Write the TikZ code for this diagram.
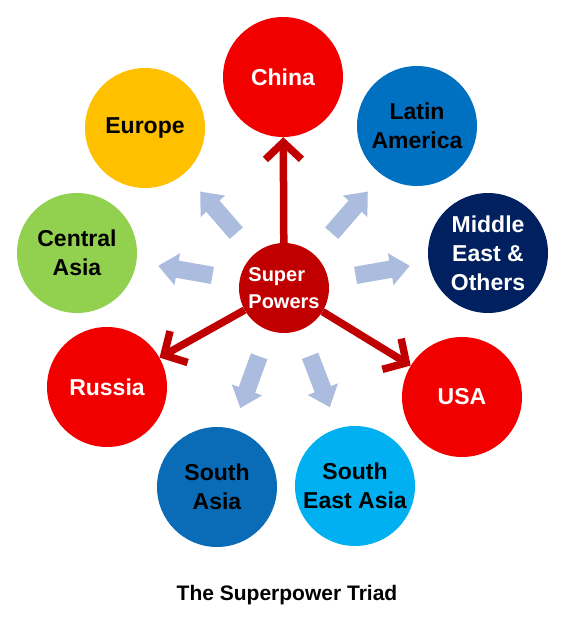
\documentclass[tikz,border=0pt]{standalone}
\usepackage{fontspec}
\setmainfont{Liberation Sans}
\usetikzlibrary{arrows.meta,shapes.arrows,calc}

\definecolor{cnred}{RGB}{242,0,0}
\definecolor{hubred}{RGB}{192,0,0}
\definecolor{eugold}{RGB}{255,192,0}
\definecolor{lablue}{RGB}{0,112,192}
\definecolor{sablue}{RGB}{10,108,182}
\definecolor{menavy}{RGB}{0,32,96}
\definecolor{cagreen}{RGB}{146,208,80}
\definecolor{seablue}{RGB}{0,176,240}
\definecolor{pushblue}{RGB}{172,188,222}

\tikzset{
  region/.style={circle, minimum size=120pt, inner sep=0pt, align=center,
    font=\bfseries\fontsize{23}{29}\selectfont},
  hub/.style={circle, fill=hubred, minimum size=90pt, inner sep=0pt, align=left,
    text=white, font=\bfseries\fontsize{20}{27}\selectfont},
  push/.style={single arrow, fill=pushblue, minimum height=55pt, inner xsep=0pt,
    inner ysep=8.5pt, single arrow head extend=7.5pt, single arrow tip angle=80},
  power/.style={draw=hubred, line width=7.5pt, -{Straight Barb[length=17pt,width=36pt]}}
}

\begin{document}
\begin{tikzpicture}[x=1pt,y=-1pt]
			%%%%% START %%%%%
			\useasboundingbox (0,0) rectangle (564,626);
			
			\node[region, fill=cnred, text=white] (china) at (283,77) {China};
			\node[region, fill=eugold] (europe) at (145,128) {Europe};
			\node[region, fill=lablue] (latam) at (417,126) {Latin\\America};
			\node[region, fill=cagreen] (casia) at (77,253) {Central\\Asia};
			\node[region, fill=menavy, text=white] (mideast) at (488,253) {Middle\\East \&\\Others};
			\node[region, fill=cnred, text=white] (russia) at (107,387) {Russia};
			\node[region, fill=cnred, text=white] (usa) at (462,397) {USA};
			\node[region, fill=sablue] (sasia) at (217,487) {South\\Asia};
			\node[region, fill=seablue] (seasia) at (355,486) {South\\East Asia};
			
			\node[hub] (sp) at (284,288) {Super\\Powers};
			
			\foreach \ang/\nm in {131/eu, 49/la, 170/ca, 10/me, 250/sa, 291/sea}
				\node[push, rotate=\ang] (push-\nm) at ($(sp.center)+(-\ang:95)$) {};
			
			\draw[power] (sp) -- (china);
			\draw[power] (sp) -- (russia);
			\draw[power] (sp) -- (usa);
			
			\node[font=\bfseries\fontsize{21}{25}\selectfont] (title) at (287,595) {The Superpower Triad};
			
			%%%%% END %%%%%
\end{tikzpicture}
\end{document}
